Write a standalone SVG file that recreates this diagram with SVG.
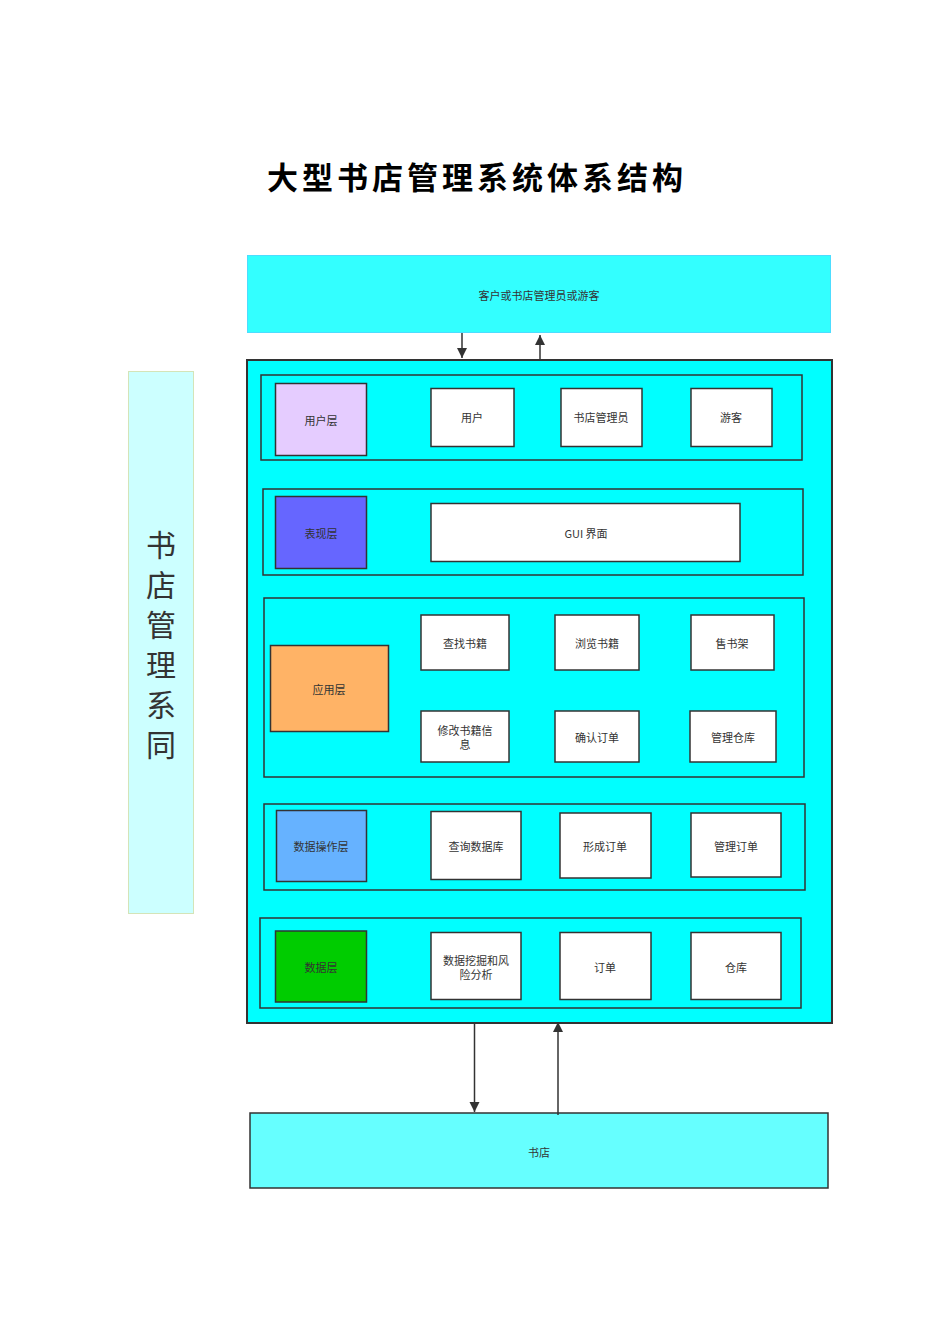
<svg xmlns="http://www.w3.org/2000/svg" width="950" height="1344" viewBox="0 0 950 1344">
<style>
text{font-family:"Noto Sans CJK SC","Noto Sans",sans-serif;fill:#333;text-anchor:middle;dominant-baseline:central}
.lbl{font-size:11px}
.box{fill:#fff;stroke:#333;stroke-width:1.5}
.row{fill:none;stroke:#333;stroke-width:1.5}
.layer{stroke:#333;stroke-width:1.5}
.conn{stroke:#333;stroke-width:1.5;fill:none}
.vt{font-size:30px}
</style>
<defs>
<marker id="ah" viewBox="0 0 10 10" refX="10" refY="5" markerWidth="10" markerHeight="11" markerUnits="userSpaceOnUse" orient="auto">
<path d="M0,0 L10,5 L0,10 z" fill="#333"/>
</marker>
</defs>
<rect width="950" height="1344" fill="#fff"/>
<text x="477" y="175" style="font-size:31px;font-weight:bold;letter-spacing:4px;fill:#000">大型书店管理系统体系结构</text>

<g id="side">
<rect x="128.5" y="371.5" width="65" height="542" fill="#CCFFFF" stroke="#D4E4B8" stroke-width="1"/>
<text class="vt" x="161" y="543">书</text>
<text class="vt" x="161" y="583">店</text>
<text class="vt" x="161" y="623">管</text>
<text class="vt" x="161" y="663">理</text>
<text class="vt" x="161" y="703">系</text>
<text class="vt" x="161" y="743">同</text>
</g>

<g id="client">
<rect x="247.5" y="255.5" width="583" height="77" fill="#33FFFF" stroke="#4DDDFF" stroke-width="1"/>
<text class="lbl" x="539" y="295">客户或书店管理员或游客</text>
</g>

<g id="system">
<rect x="247" y="360" width="585" height="663" fill="#00FFFF" stroke="#333" stroke-width="2"/>
</g>

<g id="row-user">
<rect class="row" x="261" y="375" width="541" height="85"/>
<g id="user-layer"><rect class="layer" x="275.5" y="383.5" width="91" height="72" fill="#E5CCFF"/><text class="lbl" x="321" y="420">用户层</text></g>
<g id="user"><rect class="box" x="431" y="388.5" width="83" height="58"/><text class="lbl" x="472" y="417">用户</text></g>
<g id="admin"><rect class="box" x="561" y="388.5" width="81" height="58"/><text class="lbl" x="601" y="417">书店管理员</text></g>
<g id="guest"><rect class="box" x="691" y="388.5" width="81" height="58"/><text class="lbl" x="731" y="417">游客</text></g>
</g>

<g id="row-pres">
<rect class="row" x="263" y="489" width="540" height="86"/>
<g id="pres-layer"><rect class="layer" x="275.5" y="496.5" width="91" height="72" fill="#6666FF"/><text class="lbl" x="321" y="533">表现层</text></g>
<g id="gui"><rect class="box" x="431" y="503.5" width="309" height="58"/><text class="lbl" x="586" y="533">GUI 界面</text></g>
</g>

<g id="row-app">
<rect class="row" x="264" y="598" width="540" height="179"/>
<g id="app-layer"><rect class="layer" x="270.5" y="645.5" width="118" height="86" fill="#FFB366"/><text class="lbl" x="329" y="689">应用层</text></g>
<g id="find"><rect class="box" x="421" y="615" width="88" height="55"/><text class="lbl" x="465" y="643">查找书籍</text></g>
<g id="browse"><rect class="box" x="555" y="615" width="84" height="55"/><text class="lbl" x="597" y="643">浏览书籍</text></g>
<g id="shelf"><rect class="box" x="691" y="615" width="83" height="55"/><text class="lbl" x="732" y="643">售书架</text></g>
<g id="modify"><rect class="box" x="421" y="711" width="88" height="51"/><text class="lbl" x="465" y="730">修改书籍信</text><text class="lbl" x="465" y="744">息</text></g>
<g id="confirm"><rect class="box" x="555" y="711" width="84" height="51"/><text class="lbl" x="597" y="737">确认订单</text></g>
<g id="warehouse-mgr"><rect class="box" x="690" y="711" width="86" height="51"/><text class="lbl" x="733" y="737">管理仓库</text></g>
</g>

<g id="row-dataop">
<rect class="row" x="264" y="804" width="541" height="86"/>
<g id="dataop-layer"><rect class="layer" x="276.5" y="810.5" width="90" height="71" fill="#66B2FF"/><text class="lbl" x="321" y="846">数据操作层</text></g>
<g id="query"><rect class="box" x="431" y="811.5" width="90" height="68"/><text class="lbl" x="476" y="846">查询数据库</text></g>
<g id="form-order"><rect class="box" x="560" y="813" width="91" height="65"/><text class="lbl" x="605" y="846">形成订单</text></g>
<g id="manage-order"><rect class="box" x="691" y="813" width="90" height="64"/><text class="lbl" x="736" y="846">管理订单</text></g>
</g>

<g id="row-data">
<rect class="row" x="260" y="918" width="541" height="90"/>
<g id="data-layer"><rect class="layer" x="275.5" y="931" width="91" height="71" fill="#00CC00"/><text class="lbl" x="321" y="967">数据层</text></g>
<g id="mining"><rect class="box" x="431" y="932.5" width="90" height="67"/><text class="lbl" x="476" y="960">数据挖掘和风</text><text class="lbl" x="476" y="974">险分析</text></g>
<g id="order"><rect class="box" x="560" y="932.5" width="91" height="67"/><text class="lbl" x="605" y="967">订单</text></g>
<g id="warehouse"><rect class="box" x="691" y="932.5" width="90" height="67"/><text class="lbl" x="736" y="967">仓库</text></g>
</g>

<g id="bookstore">
<rect x="250" y="1113" width="578" height="75" fill="#66FFFF" stroke="#333" stroke-width="1.5"/>
<text class="lbl" x="539" y="1152">书店</text>
</g>

<g id="connectors">
<line class="conn" x1="462" y1="333" x2="462" y2="358" marker-end="url(#ah)"/>
<line class="conn" x1="540" y1="359" x2="540" y2="335" marker-end="url(#ah)"/>
<line class="conn" x1="474.5" y1="1024" x2="474.5" y2="1112" marker-end="url(#ah)"/>
<line class="conn" x1="558" y1="1115" x2="558" y2="1022" marker-end="url(#ah)"/>
</g>
</svg>
